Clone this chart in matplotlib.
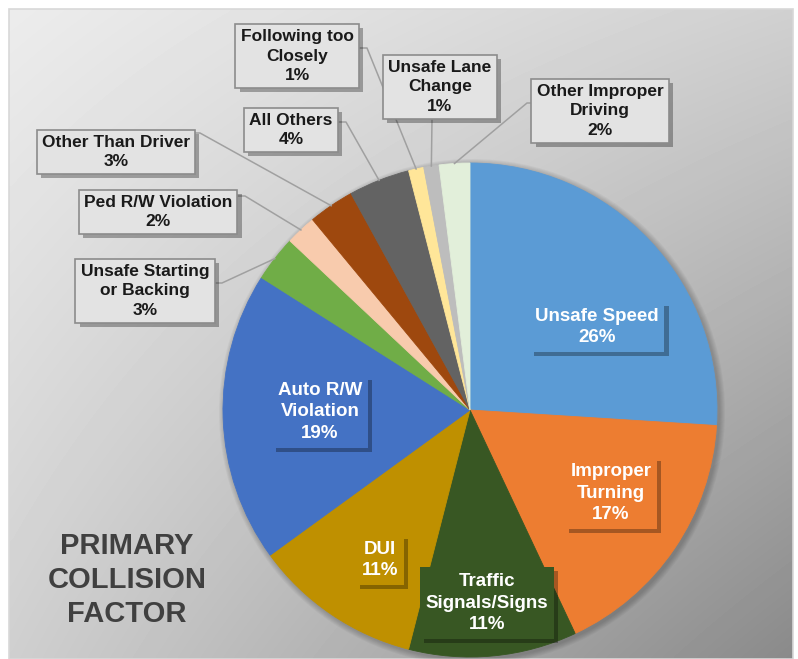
import numpy as np
import matplotlib.pyplot as plt
import matplotlib.patheffects as pe
from matplotlib.patches import Circle, Rectangle

# data
factors = ['Unsafe Speed', 'Improper Turning', 'Traffic Signals/Signs', 'DUI',
           'Auto R/W Violation', 'Unsafe Starting or Backing', 'Ped R/W Violation',
           'Other Than Driver', 'All Others', 'Following too Closely',
           'Unsafe Lane Change', 'Other Improper Driving']
shares = [26, 17, 11, 11, 19, 3, 2, 3, 4, 1, 1, 2]
label_text = ['Unsafe Speed', 'Improper\nTurning', 'Traffic\nSignals/Signs', 'DUI',
              'Auto R/W\nViolation', 'Unsafe Starting\nor Backing', 'Ped R/W Violation',
              'Other Than Driver', 'All Others', 'Following too\nClosely',
              'Unsafe Lane\nChange', 'Other Improper\nDriving']
colours = ['#5B9BD5', '#ED7D31', '#385723', '#BF9000', '#4472C4', '#70AD47',
           '#F8CBAD', '#9E480E', '#636363', '#FFE699', '#BDBDBD', '#E2EFDA']

W, H = 798, 659
FONT = ['Liberation Sans', 'DejaVu Sans']

def iy(y):
    # picture row -> data y
    return H - y

fig = plt.figure(figsize=(W / 100, H / 100), dpi=100)
ax = fig.add_axes([0, 0, 1, 1])

# gradient panel
gx = np.linspace(0, 1, 200)
gy = np.linspace(0, 1, 200)
u, v = np.meshgrid(gx, gy)
grad = (236 - 28 * u - 29 * v - 41 * u * v) / 255.0
ax.imshow(grad, cmap='gray', vmin=0, vmax=1, extent=(9, 793, iy(659), iy(9)),
          origin='upper', zorder=0, aspect='auto', interpolation='bicubic')
ax.add_patch(Rectangle((9, iy(659)), 784, 650, fill=False, ec='#d8d8d8', lw=1.2, zorder=1))

cx, cy, r = 470, iy(410), 247

# soft shadow behind the pie
for k in range(6):
    ax.add_patch(Circle((cx + 2, cy - 2), r + 6 - k, color='black', alpha=0.035, lw=0, zorder=1))

wedges, _ = ax.pie(shares, colors=colours, startangle=90, counterclock=False,
                   center=(cx, cy), radius=r, frame=True,
                   wedgeprops=dict(linewidth=0.6, zorder=2))
for w, c in zip(wedges, colours):
    w.set_edgecolor(c)

ax.set_xlim(0, W)
ax.set_ylim(0, H)
ax.set_aspect('auto')
ax.axis('off')


def box_text(x, y, s, fc, tc, size, ec='none'):
    t = ax.text(x, y, s, ha='center', va='center', fontsize=size, fontweight='bold',
                family=FONT, color=tc, linespacing=1.35,
                bbox=dict(boxstyle='square,pad=0.3', fc=fc, ec=ec, lw=1.2), zorder=5)
    t.get_bbox_patch().set_path_effects([
        pe.SimplePatchShadow(offset=(3, -3), shadow_rgbFace='black', alpha=0.3),
        pe.Normal()])
    return t


def wedge_point(i):
    w = wedges[i]
    mid = np.deg2rad((w.theta1 + w.theta2) / 2)
    return cx + r * np.cos(mid), cy + r * np.sin(mid)


# inside labels (picture coords of centre)
inside = {0: (597, 327), 1: (611, 493), 2: (487, 603), 3: (380, 560), 4: (320, 412)}
for i, (x, y) in inside.items():
    box_text(x, iy(y), f'{label_text[i]}\n{shares[i]}%', colours[i], 'white', 13.5)

# outside labels: centre, attach point, elbow point
outside = {
    5: ((145, 291), (215, 283), (222, 283)),
    6: ((158, 212), (238, 196), (245, 196)),
    7: ((116, 152), (193, 133), (200, 133)),
    8: ((291, 130), (338, 122), (346, 122)),
    9: ((297, 56), (358, 48), (367, 48)),
    10: ((440, 87), (432, 120), None),
    11: ((600, 111), (533, 103), (527, 103)),
}
for i, (c, att, elb) in outside.items():
    px, py = wedge_point(i)
    xs = [px]
    ys = [py]
    if elb is not None:
        xs.append(elb[0])
        ys.append(iy(elb[1]))
    xs.append(att[0])
    ys.append(iy(att[1]))
    ax.plot(xs, ys, color='#a0a0a0', lw=1.1, zorder=3)
    box_text(c[0], iy(c[1]), f'{label_text[i]}\n{shares[i]}%', '#e3e3e3', '#1a1a1a',
             12.5, ec='#8c8c8c')

ax.text(127, iy(580), 'PRIMARY\nCOLLISION\nFACTOR', ha='center', va='center',
        fontsize=21, fontweight='bold', family=FONT, color='#404040', linespacing=1.26,
        zorder=5)

fig.savefig('out.png', dpi=100, facecolor='white')
